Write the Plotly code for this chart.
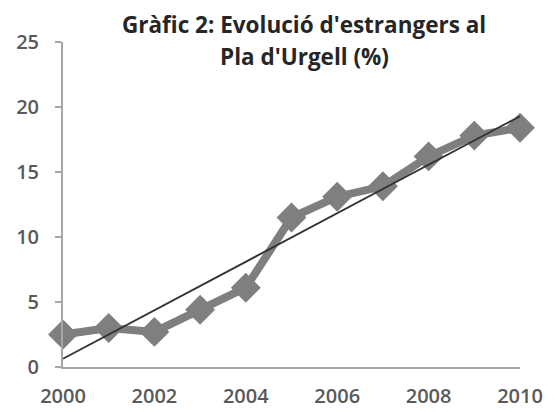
import numpy as np
import plotly.graph_objects as go

years = [2000, 2001, 2002, 2003, 2004, 2005, 2006, 2007, 2008, 2009, 2010]
pct_estrangers = [2.5, 3.0, 2.7, 4.4, 6.1, 11.5, 13.1, 13.9, 16.2, 17.8, 18.4]
x_ticks = [2000, 2002, 2004, 2006, 2008, 2010]
y_ticks = [0, 5, 10, 15, 20, 25]
title_lines = ["Gràfic 2: Evolució d'estrangers al", "Pla d'Urgell (%)"]

# linear trend line (least squares over the series)
slope, intercept = np.polyfit(years, pct_estrangers, 1)
trend_x = [years[0], years[-1]]
trend_y = [slope * x + intercept for x in trend_x]

# page body has an 8px default margin, so the figure is offset by 8px
OFF = 8
W, H = 555 - OFF, 412 - OFF
ML, MR, MT, MB = 63 - OFF, 35, 42 - OFF, 45
pw = W - ML - MR
ph = H - MT - MB

def to_paper(px, py):
    return (px - OFF - ML) / pw, 1 - (py - OFF - MT) / ph

fig = go.Figure()
fig.add_trace(go.Scatter(
    x=years, y=pct_estrangers, mode="lines+markers",
    line=dict(color="#7f7f7f", width=8),
    marker=dict(symbol="diamond", size=23, color="#7f7f7f"),
    cliponaxis=False, showlegend=False,
))
fig.add_trace(go.Scatter(
    x=trend_x, y=trend_y, mode="lines",
    line=dict(color="#333333", width=1.9),
    cliponaxis=False, showlegend=False,
))

annots = []
for text, py in zip(title_lines, [25, 56]):
    ax, ay = to_paper(304, py)
    annots.append(dict(text="<b>%s</b>" % text, x=ax, y=ay, xref="paper", yref="paper",
                       xanchor="center", yanchor="middle", showarrow=False,
                       font=dict(size=22.5, color="#262626", family="Open Sans")))

fig.update_layout(
    width=W, height=H,
    margin=dict(l=ML, r=MR, t=MT, b=MB),
    paper_bgcolor="white", plot_bgcolor="white",
    font=dict(family="Open Sans", color="#555555"),
    annotations=annots,
)

fig.update_xaxes(
    range=[2000, 2010], tickvals=x_ticks, ticktext=[str(v) for v in x_ticks],
    showline=True, linecolor="#a6a6a6", linewidth=2,
    showgrid=False, zeroline=False, ticks="", automargin=False,
    tickfont=dict(size=20, color="#595959", family="Open Sans", weight=600),
    ticklabelstandoff=10,
)
fig.update_yaxes(
    range=[0, 25], tickvals=y_ticks,
    showline=True, linecolor="#a6a6a6", linewidth=2,
    showgrid=False, zeroline=False, ticks="outside", ticklen=6, tickcolor="#a6a6a6", tickwidth=2,
    automargin=False,
    tickfont=dict(size=20, color="#595959", family="Open Sans", weight=600),
    ticklabelstandoff=12,
)

fig.write_html("out.html")
